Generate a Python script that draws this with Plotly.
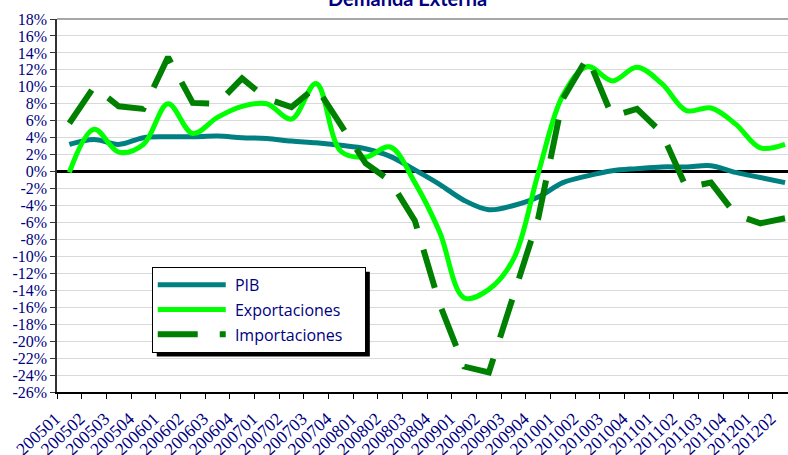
import plotly.graph_objects as go

quarters = ["200501", "200502", "200503", "200504", "200601", "200602", "200603", "200604",
            "200701", "200702", "200703", "200704", "200801", "200802", "200803", "200804",
            "200901", "200902", "200903", "200904", "201001", "201002", "201003", "201004",
            "201101", "201102", "201103", "201104", "201201", "201202"]

pib = [3.2, 3.8, 3.2, 4.0, 4.1, 4.1, 4.2, 4.0, 3.9, 3.6, 3.4, 3.1, 2.7, 1.8, 0.2,
       -1.5, -3.4, -4.5, -4.0, -3.0, -1.3, -0.5, 0.1, 0.35, 0.55, 0.55, 0.7, -0.1, -0.7, -1.3]

exportaciones = [-0.1, 5.0, 2.3, 3.2, 8.0, 4.5, 6.4, 7.7, 8.0, 6.2, 10.4, 2.4, 1.7, 2.9, -1.3,
                 -7.1, -14.9, -13.9, -10.3, -0.2, 9.0, 12.4, 10.7, 12.3, 10.4, 7.2, 7.5, 5.6, 2.8, 3.2]

importaciones = [5.7, 10.0, 7.7, 7.4, 13.5, 8.1, 8.0, 11.0, 8.6, 7.6, 10.0, 5.6, 1.0, -1.1, -5.8,
                 -15.6, -23.0, -23.7, -14.6, -5.5, 8.6, 13.5, 6.5, 7.4, 4.6, -1.9, -1.3, -5.1, -6.1, -5.5]

series_names = ["PIB", "Exportaciones", "Importaciones"]

y_ticks = list(range(-26, 19, 2))
y_tick_text = [f"{v}%" for v in y_ticks]

navy = "#000080"
lead = "\u00a0"
pad = "\u00a0" * 4

fig = go.Figure()
fig.add_trace(go.Scatter(x=quarters, y=pib, name=lead + series_names[0], mode="lines",
                         line=dict(color="#008080", width=5, shape="spline", smoothing=1.0),
                         legendgroup="a"))
fig.add_trace(go.Scatter(x=quarters, y=exportaciones, name=lead + series_names[1] + pad, mode="lines",
                         line=dict(color="#00FF00", width=5, shape="spline", smoothing=1.0),
                         legendgroup="b"))
fig.add_trace(go.Scatter(x=quarters, y=importaciones, name=lead + series_names[2] + pad, mode="lines",
                         line=dict(color="#008000", width=6, dash="40px,22px"),
                         legendgroup="c"))

L, T, B = 57.3, 18.5, 62.5
W, H = 788, 455
pw = W - L
ph = H - T - B

def px_x(x):
    return (x - L) / pw

def px_y(y):
    return (H - B - y) / ph

fig.update_layout(
    width=W, height=H,
    margin=dict(l=L, r=0, t=T, b=B, autoexpand=False),
    paper_bgcolor="white", plot_bgcolor="white",
    showlegend=True,
    legend=dict(x=px_x(152), y=px_y(267), xanchor="left", yanchor="top",
                bgcolor="white", bordercolor="black", borderwidth=1,
                font=dict(family="Open Sans", size=16, color=navy),
                itemwidth=68, tracegroupgap=1),
    annotations=[dict(text="<b>Demanda Externa</b>", x=px_x(408), y=1, xref="paper", yref="paper",
                      xanchor="center", yanchor="bottom", yshift=7, showarrow=False,
                      font=dict(family="Lato", size=20, color=navy))],
    shapes=[
        dict(type="rect", xref="paper", yref="paper", x0=px_x(157), x1=px_x(370),
             y0=px_y(357), y1=px_y(272), fillcolor="black", line=dict(width=0), layer="above"),
        dict(type="line", xref="paper", yref="paper", x0=0, x1=1, y0=1, y1=1,
             line=dict(color="#888888", width=1.5)),
    ],
)

fig.update_xaxes(type="category", range=[-0.5, 29.12], showline=True, linecolor="black", linewidth=1.5,
                 ticks="outside", ticklen=5, tickcolor="black", tickson="boundaries",
                 tickangle=-43, showgrid=False, automargin=False,
                 ticklabelshift=-14, ticklabelstandoff=8,
                 tickfont=dict(family="Liberation Serif", size=17.5, color=navy))
fig.update_yaxes(range=[-26, 18], tickvals=y_ticks, ticktext=y_tick_text, showline=True,
                 linecolor="#333333", linewidth=1.5, ticks="outside", ticklen=5, tickcolor="#333333",
                 showgrid=True, gridcolor="#d9d9d9", gridwidth=1,
                 zeroline=True, zerolinecolor="black", zerolinewidth=2.5, automargin=False,
                 tickfont=dict(family="Liberation Serif", size=16, color=navy))

fig.write_html("out.html", config={"displayModeBar": False},
               post_script="document.body.style.margin='0';")
